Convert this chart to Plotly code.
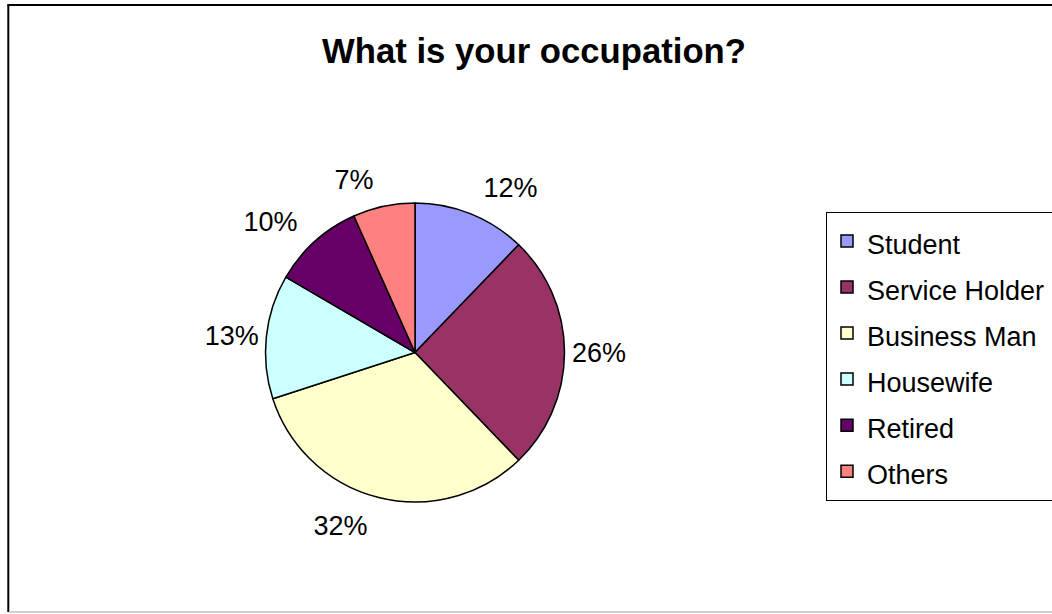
import plotly.graph_objects as go

W, H = 1052, 614

categories = ["Student", "Service Holder", "Business Man", "Housewife", "Retired", "Others"]
shares = [12.2, 25.6, 32.2, 13.4, 9.9, 6.7]
colors = ["#9999FF", "#993366", "#FFFFCC", "#CCFFFF", "#660066", "#FF8080"]
title_text = "What is your occupation?"

# outward offset of each percentage label (fraction of radius), style only
label_pull = [0.09, 0.0, 0.10, 0.0, 0.10, 0.085]

FONT = "Liberation Sans, Arial, sans-serif"

cx, cy, r = 415, 352.5, 149.5
R_lab = r * (1 + max(label_pull))


def dom(rad):
    return dict(x=[(cx - rad) / W, (cx + rad) / W], y=[1 - (cy + rad) / H, 1 - (cy - rad) / H])


# legend box runs past the right edge of the chart, as in the original
legend_labels = ["<span style='font-size:27px'>%s&nbsp;</span>" % c for c in categories]

fig = go.Figure()
# transparent copy used only to place the percentage labels
fig.add_trace(go.Pie(
    labels=legend_labels,
    values=shares,
    sort=False,
    direction="clockwise",
    rotation=0,
    pull=label_pull,
    marker=dict(colors=["rgba(0,0,0,0)"] * len(shares), line=dict(width=0)),
    texttemplate="%{percent:.0%}",
    textposition="outside",
    outsidetextfont=dict(family=FONT, size=27, color="black"),
    hoverinfo="skip",
    showlegend=False,
    domain=dom(R_lab),
))
# the visible pie
fig.add_trace(go.Pie(
    labels=legend_labels,
    values=shares,
    sort=False,
    direction="clockwise",
    rotation=0,
    marker=dict(colors=colors, line=dict(color="black", width=1.5)),
    textinfo="none",
    hovertemplate="%{customdata}: %{percent}<extra></extra>",
    customdata=categories,
    domain=dom(r),
))

fig.update_layout(
    width=W, height=H,
    margin=dict(l=0, r=0, t=0, b=0, autoexpand=False),
    paper_bgcolor="white",
    plot_bgcolor="white",
    font=dict(family=FONT, color="black"),
    showlegend=True,
    legend=dict(
        x=826 / W, y=1 - 212 / H, xanchor="left", yanchor="top",
        bordercolor="black", borderwidth=1, bgcolor="white",
        font=dict(family=FONT, size=33.1, color="black"),
    ),
    annotations=[dict(
        text="<b>" + title_text + "</b>", x=534 / W, y=1 - 51 / H,
        xref="paper", yref="paper", xanchor="center", yanchor="middle",
        showarrow=False, font=dict(family=FONT, size=34.7, color="black"),
    )],
    shapes=[
        dict(type="line", xref="paper", yref="paper", x0=8.3 / W, x1=8.3 / W, y0=1 - 5 / H, y1=1 - 612 / H,
             line=dict(color="black", width=2)),
        dict(type="line", xref="paper", yref="paper", x0=7.3 / W, x1=1.01, y0=1 - 5 / H, y1=1 - 5 / H,
             line=dict(color="black", width=2)),
        dict(type="line", xref="paper", yref="paper", x0=9 / W, x1=1.01, y0=1 - 612 / H, y1=1 - 612 / H,
             line=dict(color="#c0c0c0", width=1.5)),
    ],
)

fig.write_html(
    "out.html",
    config={"displayModeBar": False},
    post_script="document.body.style.margin='0';document.body.style.overflow='hidden';",
)
